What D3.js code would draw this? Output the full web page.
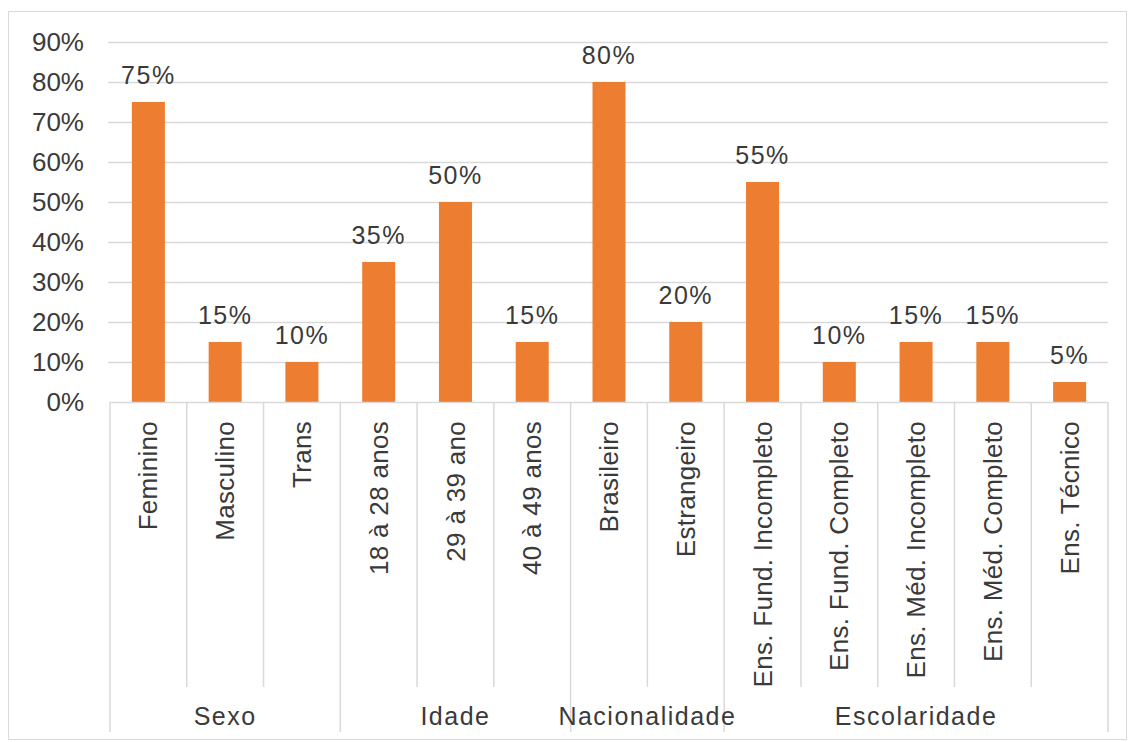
<!DOCTYPE html>
<html>
<head>
<meta charset="utf-8">
<script src="https://cdn.jsdelivr.net/npm/d3@7"></script>
<style>
  body { margin: 0; background: #fff; }
  text { font-family: "Liberation Sans", Arial, sans-serif; fill: #3a3a3a; }
</style>
</head>
<body>
<div id="chart"></div>
<script>
// data
const categories = [
  "Feminino", "Masculino", "Trans",
  "18 à 28 anos", "29 à 39 ano", "40 à 49 anos",
  "Brasileiro", "Estrangeiro",
  "Ens. Fund. Incompleto", "Ens. Fund. Completo", "Ens. Méd. Incompleto",
  "Ens. Méd. Completo", "Ens. Técnico"
];
const values = [75, 15, 10, 35, 50, 15, 80, 20, 55, 10, 15, 15, 5];
const groups = ["Sexo", "Idade", "Nacionalidade", "Escolaridade"];
const groupSizes = [3, 3, 2, 5];
const yTicks = [0, 10, 20, 30, 40, 50, 60, 70, 80, 90];

const W = 1130, H = 742;
const LEFT = 110, RIGHT = 1108, TOP = 42, BASE = 402;
const CAT_BOTTOM = 687, GROUP_BOTTOM = 732;

const svg = d3.select("#chart").append("svg")
  .attr("width", W).attr("height", H);

// outer frame
svg.append("rect")
  .attr("x", 8.5).attr("y", 11.5)
  .attr("width", 1118).attr("height", 728)
  .attr("fill", "#fff").attr("stroke", "#d9d9d9");

const x = d3.scaleBand().domain(categories)
  .range([LEFT, RIGHT]).paddingInner(0.57).paddingOuter(0.285);
const y = d3.scaleLinear().domain([0, 90]).range([BASE, TOP]);

// gridlines
svg.append("g").selectAll("line")
  .data(yTicks.slice(1))
  .join("line")
  .attr("x1", LEFT - 2).attr("x2", RIGHT)
  .attr("y1", d => Math.round(y(d)) + 0.5).attr("y2", d => Math.round(y(d)) + 0.5)
  .attr("stroke", "#d9d9d9").attr("stroke-width", 1.5);

// y axis labels
const yAxis = svg.append("g")
  .attr("transform", `translate(${LEFT - 26},0)`)
  .call(d3.axisLeft(y).tickValues(yTicks).tickSize(0).tickFormat(d => d + "%"));
yAxis.select(".domain").remove();
yAxis.selectAll("text")
  .attr("x", 0)
  .style("font-size", "26px")
  .style("font-family", "'Liberation Sans', Arial, sans-serif")
  .attr("fill", "#3a3a3a");

// bars
svg.append("g").selectAll("rect")
  .data(values)
  .join("rect")
  .attr("x", (d, i) => x(categories[i]))
  .attr("y", d => y(d))
  .attr("width", x.bandwidth())
  .attr("height", d => BASE - y(d))
  .attr("fill", "#ED7D31");

// data labels
svg.append("g").selectAll("text")
  .data(values)
  .join("text")
  .attr("x", (d, i) => x(categories[i]) + x.bandwidth() / 2)
  .attr("y", d => y(d) - 18)
  .attr("text-anchor", "middle")
  .style("font-size", "25px")
  .style("letter-spacing", "1.5px")
  .text(d => d + "%");

// category axis: baseline and separators
const step = x.step();
svg.append("line")
  .attr("x1", LEFT).attr("x2", RIGHT)
  .attr("y1", BASE + 0.5).attr("y2", BASE + 0.5)
  .attr("stroke", "#d9d9d9").attr("stroke-width", 1.5);

const groupStarts = [0];
groupSizes.forEach((s, i) => groupStarts.push(groupStarts[i] + s));

svg.append("g").selectAll("line")
  .data(d3.range(categories.length + 1))
  .join("line")
  .attr("x1", i => LEFT + i * step).attr("x2", i => LEFT + i * step)
  .attr("y1", BASE)
  .attr("y2", i => groupStarts.includes(i) ? GROUP_BOTTOM : CAT_BOTTOM)
  .attr("stroke", "#d9d9d9").attr("stroke-width", 1.5);

// rotated category labels
svg.append("g").selectAll("text")
  .data(categories)
  .join("text")
  .attr("transform", d => `translate(${x(d) + x.bandwidth() / 2},421) rotate(-90)`)
  .attr("text-anchor", "end")
  .attr("dy", "0.35em")
  .style("font-size", "26px")
  .style("letter-spacing", "0.3px")
  .text(d => d);

// group labels
svg.append("g").selectAll("text")
  .data(groups)
  .join("text")
  .attr("x", (d, i) => LEFT + (groupStarts[i] + groupSizes[i] / 2) * step)
  .attr("y", 725)
  .attr("text-anchor", "middle")
  .style("font-size", "25px")
  .style("letter-spacing", "1.5px")
  .text(d => d);
</script>
</body>
</html>
